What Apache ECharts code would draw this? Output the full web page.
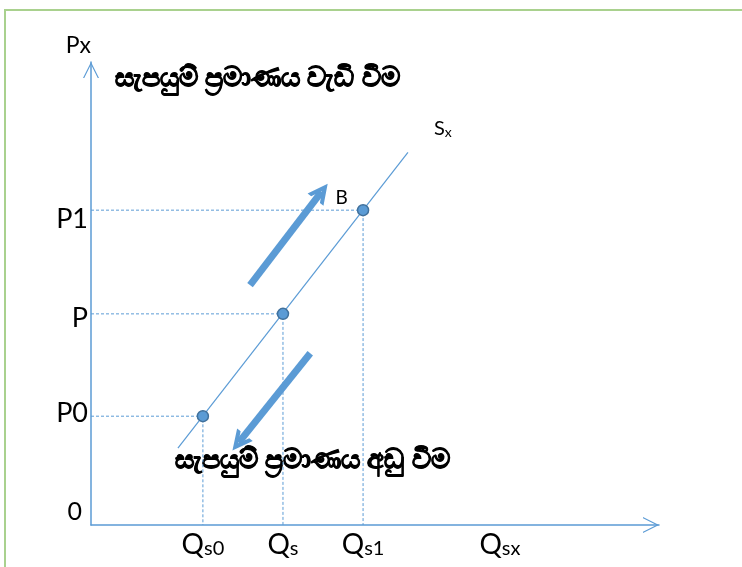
<!DOCTYPE html>
<html>
<head>
<meta charset="utf-8">
<script src="https://cdn.jsdelivr.net/npm/echarts@6/dist/echarts.min.js"></script>
<style>
  html, body { margin: 0; padding: 0; background: #fff; }
  #chart { width: 742px; height: 567px; }
</style>
</head>
<body>
<div id="chart"></div>
<script>
// price levels on the y axis
const pLabels = ['P0', 'P', 'P1'];
const pValues = [23.5, 45.6, 68];
// quantities on the x axis
const qLabels = ['Qs0', 'Qs', 'Qs1'];
const qValues = [19.7, 33.8, 47.9];
const qAxisLabel = 'Qsx';
const qAxisLabelAt = 72;
// supply curve Sx
const supplyLine = [[15.3, 16.6], [55.8, 80.5]];
// movement arrows
const riseArrow = [[28.0, 51.8], [40.6, 72.0]];
const fallArrow = [[38.6, 37.1], [26.0, 17.8]];
const riseText = 'සැපයුම් ප්\u200Dරමාණය වැඩි වීම';
const fallText = 'සැපයුම් ප්\u200Dරමාණය අඩු වීම';

const blue = '#5b9bd5';
const font = 'Lato, "Noto Sans", sans-serif';
// thin open arrow head for the axes
const chevron = 'path://M0,20 L10,0 L20,20 L18.4,20 L10,3.2 L1.6,20 Z';
// thick open arrow head for the movement arrows
const fatChevron = 'path://M0,13 L10,0 L20,13 L15.5,13 L10,6 L4.5,13 Z';

const chart = echarts.init(document.getElementById('chart'));

// dashed guide lines
const guides = [];
for (let i = 0; i < pValues.length; i++) {
  guides.push({
    type: 'line', symbol: 'none', silent: true, color: blue,
    lineStyle: { color: blue, width: 1, type: [3, 2], opacity: 1 },
    data: [[0, pValues[i]], [qValues[i], pValues[i]], [qValues[i], 0]]
  });
}

const sinhalaStyle = {
  fontFamily: '"Noto Sans", sans-serif', fontSize: 27, fontWeight: 'bold',
  fill: '#000', stroke: '#000', lineWidth: 0.9
};
// small vertical nudges so the P labels sit like the original
const pPads = [[0, 0, 6, 0], [8, 0, 0, 0], [18, 0, 0, 0]];

const option = {
  animation: false,
  backgroundColor: '#fff',
  grid: { left: 91, right: 83, top: 62, bottom: 42 },
  xAxis: {
    type: 'value', min: 0, max: 100,
    splitLine: { show: false },
    axisTick: { show: false },
    axisLine: {
      show: true,
      lineStyle: { color: blue, width: 1.5 },
      symbol: ['none', chevron],
      symbolSize: [18, 16],
      symbolOffset: [0, -8]
    },
    axisLabel: {
      customValues: qValues.concat([qAxisLabelAt]),
      margin: 5,
      formatter: function (v) {
        let i = qValues.indexOf(v);
        let txt = i >= 0 ? qLabels[i] : qAxisLabel;
        return '{q|' + txt[0] + '}{s|' + txt.slice(1) + '}';
      },
      rich: {
        q: { fontFamily: font, fontSize: 28, color: '#000', lineHeight: 28 },
        s: { fontFamily: font, fontSize: 20, color: '#000', padding: [9, 0, 0, 0] }
      }
    }
  },
  yAxis: {
    type: 'value', min: 0, max: 100,
    name: 'Px',
    nameGap: 5,
    nameTextStyle: { fontFamily: font, fontSize: 23, color: '#000', align: 'right' },
    splitLine: { show: false },
    axisTick: { show: false },
    axisLine: {
      show: true,
      lineStyle: { color: blue, width: 1.5 },
      symbol: ['none', chevron],
      symbolSize: [18, 16],
      symbolOffset: [0, -8]
    },
    axisLabel: {
      customValues: [0].concat(pValues),
      margin: 3,
      formatter: function (v) {
        if (v === 0) return '{z|0}';
        let i = pValues.indexOf(v);
        return '{p' + i + '|' + pLabels[i] + '}';
      },
      rich: {
        p0: { fontFamily: font, fontSize: 27, color: '#000', padding: pPads[0] },
        p1: { fontFamily: font, fontSize: 27, color: '#000', padding: pPads[1] },
        p2: { fontFamily: font, fontSize: 27, color: '#000', padding: pPads[2] },
        z: { fontFamily: font, fontSize: 25, color: '#000', padding: [0, 6, 26, 0] }
      }
    }
  },
  graphic: [
    {
      type: 'rect', silent: true, z: -1,
      shape: { x: 5, y: 10, width: 800, height: 600 },
      style: { fill: 'none', stroke: '#a9d18e', lineWidth: 2 }
    },
    { type: 'text', left: 115, top: 64, style: Object.assign({ text: riseText }, sinhalaStyle) },
    { type: 'text', left: 175, top: 446, style: Object.assign({ text: fallText }, sinhalaStyle) }
  ],
  series: guides.concat([
    {
      type: 'line', symbol: 'none', color: blue,
      lineStyle: { color: blue, width: 1.2 },
      endLabel: {
        show: true, offset: [18, -24],
        formatter: '{a|S}{b|x}',
        rich: {
          a: { fontFamily: font, fontSize: 20, color: '#000' },
          b: { fontFamily: font, fontSize: 14, color: '#000', padding: [8, 0, 0, 0] }
        }
      },
      data: supplyLine
    },
    {
      type: 'lines', coordinateSystem: 'cartesian2d',
      symbol: ['none', fatChevron], symbolSize: [30, 20],
      lineStyle: { color: blue, width: 7, opacity: 1 },
      data: [{ coords: riseArrow }, { coords: fallArrow }]
    },
    {
      type: 'scatter', symbol: 'circle', symbolSize: 11,
      itemStyle: { color: blue, borderColor: '#41719c', borderWidth: 1.5, opacity: 1 },
      z: 5,
      data: pValues.map(function (p, i) {
        let d = { value: [qValues[i], p] };
        if (i === 2) {
          d.label = {
            show: true, formatter: 'B', position: 'left', offset: [-4, -12],
            fontFamily: font, fontSize: 19, color: '#000'
          };
        }
        return d;
      })
    }
  ])
};

chart.setOption(option);
</script>
</body>
</html>
